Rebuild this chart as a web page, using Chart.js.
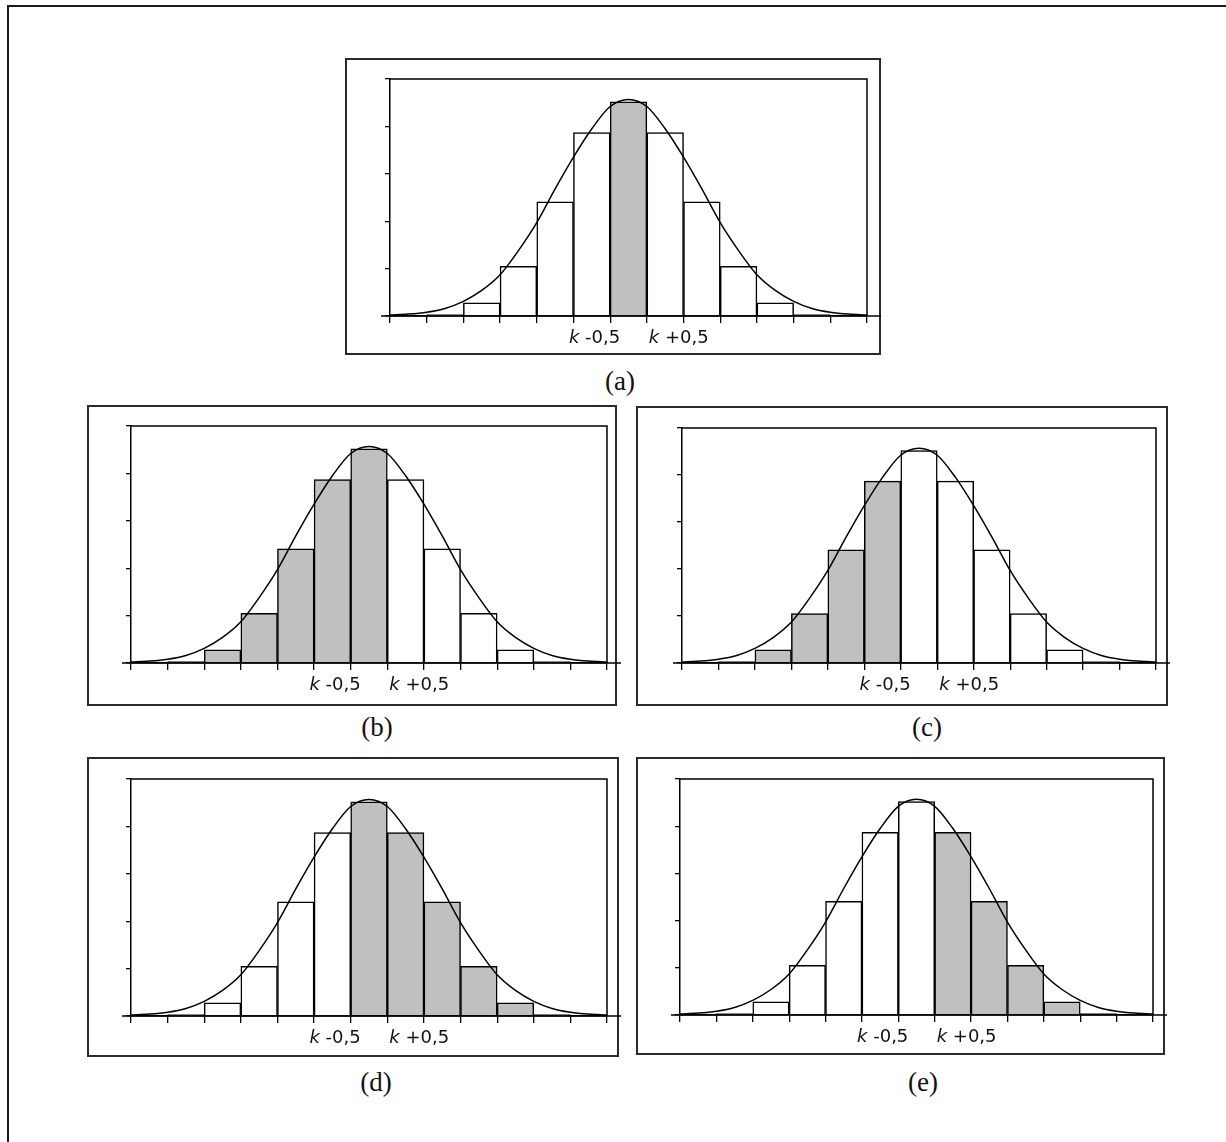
<!DOCTYPE html>
<html>
<head>
<meta charset="utf-8">
<script src="https://cdn.jsdelivr.net/npm/chart.js@4.4.7/dist/chart.umd.min.js"></script>
<style>
  html, body { margin: 0; padding: 0; background: #fff; }
  #page { position: relative; width: 1226px; height: 1142px; overflow: hidden; }
  #frame { position: absolute; left: 7px; top: 5px; width: 1400px; height: 1400px; border: 2px solid #1a1a1a; }
  canvas { position: absolute; }
  .cap { position: absolute; font-family: "Liberation Serif", serif; font-size: 27px; color: #111;
         transform: translate(-50%, -50%); white-space: nowrap; }
</style>
</head>
<body>
<div id="page"><div id="frame"></div></div>
<script>
// bar positions (offset from k) and heights (one y tick = 1)
const offsets = [-5, -4, -3, -2, -1, 0, 1, 2, 3, 4, 5];
const barHeights = [0.03, 0.28, 1.05, 2.41, 3.87, 4.52, 3.87, 2.41, 1.05, 0.28, 0.03];

// the smooth curve drawn over the bars
const curveX = [-6.5, -6, -5.5, -5, -4.5, -4, -3.5, -3, -2.5, -2, -1.5, -1, -0.5, 0,
                0.5, 1, 1.5, 2, 2.5, 3, 3.5, 4, 4.5, 5, 5.5, 6, 6.5];
const curveY = [0.02, 0.04, 0.08, 0.16, 0.31, 0.54, 0.87, 1.38, 1.97, 2.68, 3.35, 3.95, 4.42, 4.57,
                4.42, 3.95, 3.35, 2.68, 1.97, 1.38, 0.87, 0.54, 0.31, 0.16, 0.08, 0.04, 0.02];

// x tick marks sit on the bar edges, y ticks every unit
const edgeTicks = [-6.5, -5.5, -4.5, -3.5, -2.5, -1.5, -0.5, 0.5, 1.5, 2.5, 3.5, 4.5, 5.5, 6.5];
const yMax = 5;

// the two labelled edges
const boundValues = [-0.5, 0.5];
const boundLabels = ['-0,5', '+0,5'];

// which bars are shaded in each panel
const shadedA = [0];
const shadedB = [-5, -4, -3, -2, -1, 0];
const shadedC = [-5, -4, -3, -2, -1];
const shadedD = [0, 1, 2, 3, 4, 5];
const shadedE = [1, 2, 3, 4, 5];
const panelNames = ['(a)', '(b)', '(c)', '(d)', '(e)'];

// page layout: outer box, plot area, caption centre
const layout = [
  { shaded: shadedA, box: [346, 59, 880, 354], plot: [390, 79, 867, 316], cap: [620, 381] },
  { shaded: shadedB, box: [88, 406, 616, 705], plot: [131, 426, 607, 663], cap: [377, 727] },
  { shaded: shadedC, box: [637, 407, 1167, 705], plot: [682, 428, 1156, 663], cap: [927, 727] },
  { shaded: shadedD, box: [88, 758, 618, 1056], plot: [131, 779, 607, 1016], cap: [376, 1082] },
  { shaded: shadedE, box: [637, 758, 1164, 1054], plot: [680, 779, 1153, 1015], cap: [923, 1082] }
];

const X_TICK = 7, Y_TICK = 5;

const decor = {
  id: 'decor',
  beforeDraw(chart, args, opts) {
    const ctx = chart.ctx;
    ctx.save();
    ctx.strokeStyle = '#2b2b2b';
    ctx.lineWidth = 2;
    ctx.strokeRect(opts.bx, opts.by, opts.bw, opts.bh);
    ctx.restore();
  },
  afterDraw(chart) {
    const ctx = chart.ctx;
    const a = chart.chartArea;
    const x = chart.scales.x;
    ctx.save();
    ctx.strokeStyle = '#000';
    ctx.lineWidth = 1.5;
    ctx.beginPath();
    ctx.moveTo(a.left, a.top);
    ctx.lineTo(a.right, a.top);
    ctx.lineTo(a.right, a.bottom);
    ctx.moveTo(a.left - 9, a.bottom);
    ctx.lineTo(a.right + 14, a.bottom);
    ctx.stroke();

    ctx.fillStyle = '#111';
    ctx.textBaseline = 'middle';
    const ty = a.bottom + 22;
    const italic = 'italic 18px "DejaVu Sans"';
    const normal = '18px "DejaVu Sans"';
    boundValues.forEach((v, i) => {
      const rest = ' ' + boundLabels[i];
      ctx.font = italic;
      const wk = ctx.measureText('k').width;
      ctx.font = normal;
      const wr = ctx.measureText(rest).width;
      const px = x.getPixelForValue(v);
      const left = v < 0 ? px + 10 - wk - wr : px + 2;
      ctx.font = italic;
      ctx.fillText('k', left, ty);
      ctx.font = normal;
      ctx.fillText(rest, left + wk, ty);
    });
    ctx.restore();
  }
};

const page = document.getElementById('page');

layout.forEach((p, idx) => {
  const [bl, bt, br, bb] = p.box;
  const [pl, pt, pr, pb] = p.plot;
  const ox = bl - 2, oy = bt - 2;
  const cw = br - bl + 22, ch = bb - bt + 4;

  const canvas = document.createElement('canvas');
  canvas.width = cw;
  canvas.height = ch;
  canvas.style.left = ox + 'px';
  canvas.style.top = oy + 'px';
  page.appendChild(canvas);

  const cap = document.createElement('div');
  cap.className = 'cap';
  cap.textContent = panelNames[idx];
  cap.style.left = p.cap[0] + 'px';
  cap.style.top = p.cap[1] + 'px';
  page.appendChild(cap);

  new Chart(canvas, {
    type: 'bar',
    data: {
      datasets: [
        {
          type: 'line',
          data: curveX.map((v, i) => ({ x: v, y: curveY[i] })),
          borderColor: '#000',
          borderWidth: 1.5,
          pointRadius: 0,
          cubicInterpolationMode: 'monotone',
          fill: false,
          order: 0
        },
        {
          type: 'bar',
          data: offsets.map((v, i) => ({ x: v, y: barHeights[i] })),
          backgroundColor: offsets.map(v => p.shaded.includes(v) ? '#c0c0c0' : '#ffffff'),
          borderColor: '#000',
          borderWidth: 1.5,
          barPercentage: 1,
          categoryPercentage: 1,
          order: 1
        }
      ]
    },
    options: {
      responsive: false,
      animation: false,
      devicePixelRatio: 1,
      layout: {
        padding: {
          left: pl - ox - Y_TICK,
          top: pt - oy,
          right: cw - (pr - ox),
          bottom: ch - (pb - oy) - X_TICK
        }
      },
      plugins: {
        legend: { display: false },
        tooltip: { enabled: false },
        decor: { bx: 2, by: 2, bw: br - bl, bh: bb - bt }
      },
      scales: {
        x: {
          type: 'linear',
          min: edgeTicks[0],
          max: edgeTicks[edgeTicks.length - 1],
          offset: false,
          afterBuildTicks: axis => { axis.ticks = edgeTicks.map(v => ({ value: v })); },
          ticks: { display: false },
          grid: { display: true, offset: false, drawOnChartArea: false, drawTicks: true,
                  tickLength: X_TICK, color: '#000', lineWidth: 1.3 },
          border: { display: true, color: '#000', width: 1.5 }
        },
        y: {
          min: 0,
          max: yMax,
          ticks: { display: false, stepSize: 1 },
          grid: { display: true, drawOnChartArea: false, drawTicks: true,
                  tickLength: Y_TICK, color: '#000', lineWidth: 1.3 },
          border: { display: true, color: '#000', width: 1.5 }
        }
      }
    },
    plugins: [decor]
  });
});
</script>
</body>
</html>
